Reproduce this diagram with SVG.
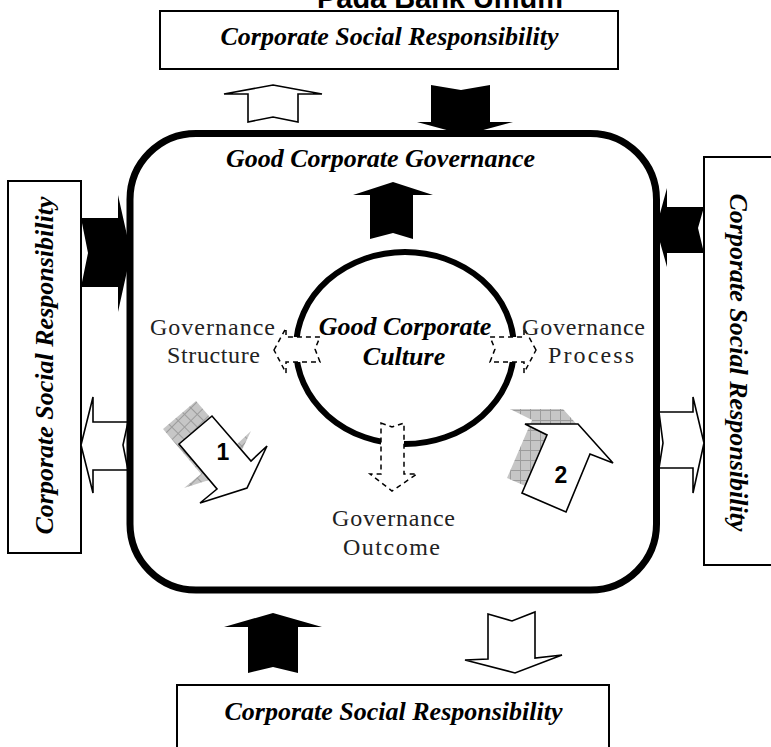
<svg xmlns="http://www.w3.org/2000/svg" width="771" height="747" viewBox="0 0 771 747">
  <style>
    .box { fill: #ffffff; stroke: #000000; stroke-width: 2; }
    .csr { font-family: "Liberation Serif", "Times New Roman", serif; font-size: 26px; font-weight: bold; font-style: italic; fill: #000000; text-anchor: middle; }
    .lbl { font-family: "Liberation Serif", "Times New Roman", serif; font-size: 24px; fill: #222222; }
    .num { font-family: "Liberation Sans", Arial, sans-serif; font-size: 23px; font-weight: bold; fill: #000000; text-anchor: middle; }
    .solid { fill: #000000; stroke: none; }
    .hollow { fill: #ffffff; stroke: #000000; stroke-width: 1.6; stroke-linejoin: miter; }
    .dashed { fill: #ffffff; stroke: #000000; stroke-width: 1.5; stroke-dasharray: 5 4; }
    .shade1 { fill: url(#grid45); stroke: none; }
    .shade2 { fill: url(#grid0); stroke: none; }
  </style>
  <defs>
    <pattern id="grid0" width="10" height="10" patternUnits="userSpaceOnUse">
      <rect width="10" height="10" fill="#c6c6c6"/>
      <path d="M0 0.5 H10 M0.5 0 V10" stroke="#9c9c9c" stroke-width="1"/>
    </pattern>
    <pattern id="grid45" width="9" height="9" patternUnits="userSpaceOnUse" patternTransform="rotate(45)">
      <rect width="9" height="9" fill="#c6c6c6"/>
      <path d="M0 0.5 H9 M0.5 0 V9" stroke="#9c9c9c" stroke-width="1"/>
    </pattern>
  </defs>

  <!-- heading, partly hidden behind the top box -->
  <text x="317" y="8" textLength="246" lengthAdjust="spacingAndGlyphs" style="font-family: 'Liberation Sans', Arial, sans-serif; font-size: 29px; font-weight: bold; fill: #000;">Pada Bank Umum</text>

  <!-- outer CSR boxes -->
  <g id="csr-top">
    <rect class="box" x="160" y="11" width="458" height="58"/>
    <text class="csr" x="389.5" y="45">Corporate Social Responsibility</text>
  </g>
  <g id="csr-left">
    <rect class="box" x="8" y="181" width="73" height="372"/>
    <text class="csr" transform="translate(53,365.5) rotate(-90)">Corporate Social Responsibility</text>
  </g>
  <g id="csr-right">
    <rect class="box" x="704" y="157" width="80" height="408"/>
    <text class="csr" transform="translate(730,362.5) rotate(90)">Corporate Social Responsibility</text>
  </g>
  <g id="csr-bottom">
    <rect class="box" x="177" y="685" width="432" height="80"/>
    <text class="csr" x="393.5" y="720">Corporate Social Responsibility</text>
  </g>

  <!-- block arrows between the CSR boxes and the governance frame -->
  <g id="connectors">
    <polygon class="hollow" points="273,85 322,94 298,94 298,122 273,117 248,122 248,94 224,94"/>
    <polygon class="solid" points="431,85 461,90 490,85 490,122 513,122 465,135 417,122 431,122"/>
    <polygon class="solid" points="81,218 118,218 118,195 131,253 118,312 118,287 81,287 88,253"/>
    <polygon class="hollow" points="81,445 93,397 93,422 128,422 123,445 128,470 93,470 93,493"/>
    <polygon class="solid" points="656,228 667,188 667,207 704,207 698,228 704,253 667,253 667,267"/>
    <polygon class="hollow" points="659,412 693,412 693,397 704,443 693,493 693,468 659,468 663,443"/>
    <polygon class="solid" points="273,613 322,627 298,627 298,673 273,667 248,673 248,627 224,627"/>
    <polygon class="hollow" points="488,614 512,621 535,612 535,658 562,655 515,673 465,660 488,659"/>
  </g>

  <!-- governance frame -->
  <g id="gcg">
    <rect x="130" y="133.5" width="526.5" height="456.5" rx="66" ry="66" fill="none" stroke="#000000" stroke-width="7"/>
    <text class="csr" x="380.5" y="167">Good Corporate Governance</text>
    <polygon class="solid" points="393,182 433,195 413,195 413,239 393,233 370,239 370,195 353,195"/>
  </g>

  <!-- corporate culture ring with dashed outflows -->
  <g id="gcc">
    <ellipse cx="405" cy="348" rx="109" ry="96" fill="none" stroke="#000000" stroke-width="6"/>
    <polygon class="dashed" points="274,350 286,328 286,337 320,337 315,349 320,362 286,362 286,373"/>
    <polygon class="dashed" points="536,350 524,328 524,337 490,337 495,349 490,362 524,362 524,373"/>
    <polygon class="dashed" points="381,423 392,427 404,423 404,474 417,474 392,491 370,474 381,474"/>
    <text class="csr" x="405" y="335">Good Corporate</text>
    <text class="csr" x="404" y="365">Culture</text>
  </g>

  <g id="structure">
    <text class="lbl" x="150" y="335" textLength="125" lengthAdjust="spacing">Governance</text>
    <text class="lbl" x="167" y="363" textLength="93" lengthAdjust="spacing">Structure</text>
  </g>
  <g id="process">
    <text class="lbl" x="522" y="335" textLength="123" lengthAdjust="spacing">Governance</text>
    <text class="lbl" x="548" y="363" textLength="86" lengthAdjust="spacing">Process</text>
  </g>
  <g id="outcome">
    <text class="lbl" x="332" y="526" textLength="123" lengthAdjust="spacing">Governance</text>
    <text class="lbl" x="343" y="555" textLength="97" lengthAdjust="spacing">Outcome</text>
  </g>

  <!-- numbered step arrows with shaded shadows -->
  <g id="step1">
    <polygon class="shade1" points="163,429 196,401 235,446 251,431 231,473 184,488 201,474"/>
    <polygon class="hollow" points="179,444 212,416 251,461 267,446 247,488 200,503 217,489"/>
    <text class="num" x="223" y="460">1</text>
  </g>
  <g id="step2">
    <polygon class="shade2" points="510,409 563,409 598,448 575,439 551,497 507,478 532,420"/>
    <polygon class="hollow" points="525,424 578,424 613,463 590,454 566,512 522,493 547,435"/>
    <text class="num" x="561" y="483">2</text>
  </g>
</svg>
